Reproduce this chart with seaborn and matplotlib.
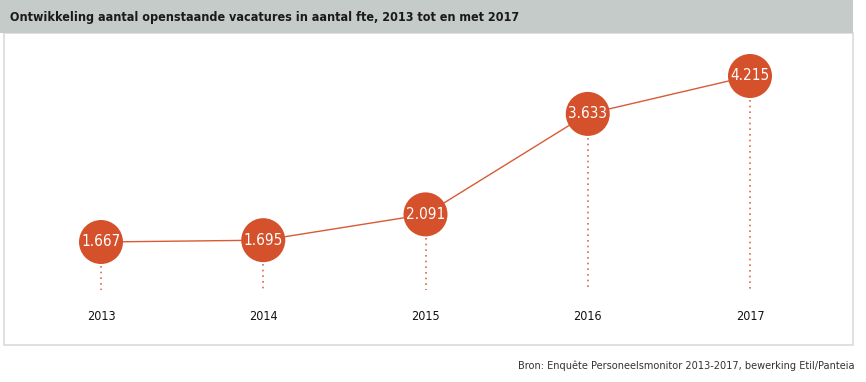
import matplotlib
matplotlib.use("Agg")
import matplotlib.pyplot as plt
import matplotlib.transforms as mtransforms
import seaborn as sns
import pandas as pd

years = [2013, 2014, 2015, 2016, 2017]
values = [1667, 1695, 2091, 3633, 4215]
value_labels = ["1.667", "1.695", "2.091", "3.633", "4.215"]
year_labels = ["2013", "2014", "2015", "2016", "2017"]
title = "Ontwikkeling aantal openstaande vacatures in aantal fte, 2013 tot en met 2017"
source = "Bron: Enquête Personeelsmonitor 2013-2017, bewerking Etil/Panteia"

sns.set_theme(style="white")
FAM = ["DejaVu Sans"]
plt.rcParams["font.family"] = FAM
COND = dict(family=FAM, fontstretch="condensed")

W, H = 866, 382
fig = plt.figure(figsize=(W / 100, H / 100), dpi=100)
fig.patch.set_facecolor("white")

def fx(px):
    return px / W

def fy(py):
    return 1 - py / H

ORANGE = "#d4512b"

# Panel box
box = plt.Rectangle((fx(4), fy(345)), fx(853 - 4), (345 - 33) / H, transform=fig.transFigure,
                    facecolor="white", edgecolor="#d9dcdb", linewidth=1.2, zorder=-2)
fig.patches.append(box)
# Title bar
bar = plt.Rectangle((0, fy(33)), fx(853), 33 / H, transform=fig.transFigure,
                    facecolor="#c5cbc8", edgecolor="none", zorder=-1)
fig.patches.append(bar)

fig.text(fx(10), fy(17), title, fontsize=9, fontweight="bold", color="#1a1a1a",
         va="center", ha="left", **COND)
fig.text(fx(855), fy(366), source, fontsize=7.8, color="#333333", va="center", ha="right",
         **COND)

ax = fig.add_axes([0, 0, 1, 1])
ax.set_facecolor("none")
ax.axis("off")

# mapping: 2013 -> x=101 px, 162.25 px/year ; 1667 -> y=242 px, 4215 -> y=76 px
px_per_year = 162.25
x0 = 2013 - 101 / px_per_year
ax.set_xlim(x0, x0 + W / px_per_year)
units_per_px = (4215 - 1667) / (242 - 76)
ytop = 1667 + 242 * units_per_px
ybot = 1667 - (H - 242) * units_per_px
ax.set_ylim(ybot, ytop)

df = pd.DataFrame({"year": years, "value": values})

# dotted drop lines
trans = mtransforms.blended_transform_factory(ax.transData, ax.transAxes)
base_y = 1 - 290 / H
for yr, v in zip(years, values):
    py_center = (ytop - v) / units_per_px
    ax.plot([yr, yr], [1 - (py_center + 24) / H, base_y], transform=trans,
            color="#dc6a48", linestyle=(0, (1, 2.4)), linewidth=1.2, zorder=1)

sns.lineplot(data=df, x="year", y="value", ax=ax, color="#d85a36", linewidth=1.0, zorder=2)
sns.scatterplot(data=df, x="year", y="value", ax=ax, color=ORANGE, s=(44 * 0.72) ** 2,
                edgecolor="none", linewidth=0, zorder=3)

for yr, v, lab in zip(years, values, value_labels):
    ax.text(yr, v, lab, color="white", fontsize=11, ha="center", va="center",
            zorder=4, **COND)

for yr, lab in zip(years, year_labels):
    ax.text(yr, 1 - 316 / H, lab, transform=trans, color="#111111", fontsize=9,
            ha="center", va="center", **COND)

ax.set_xlabel("")
ax.set_ylabel("")
fig.savefig("out.png", dpi=100, facecolor="white")
